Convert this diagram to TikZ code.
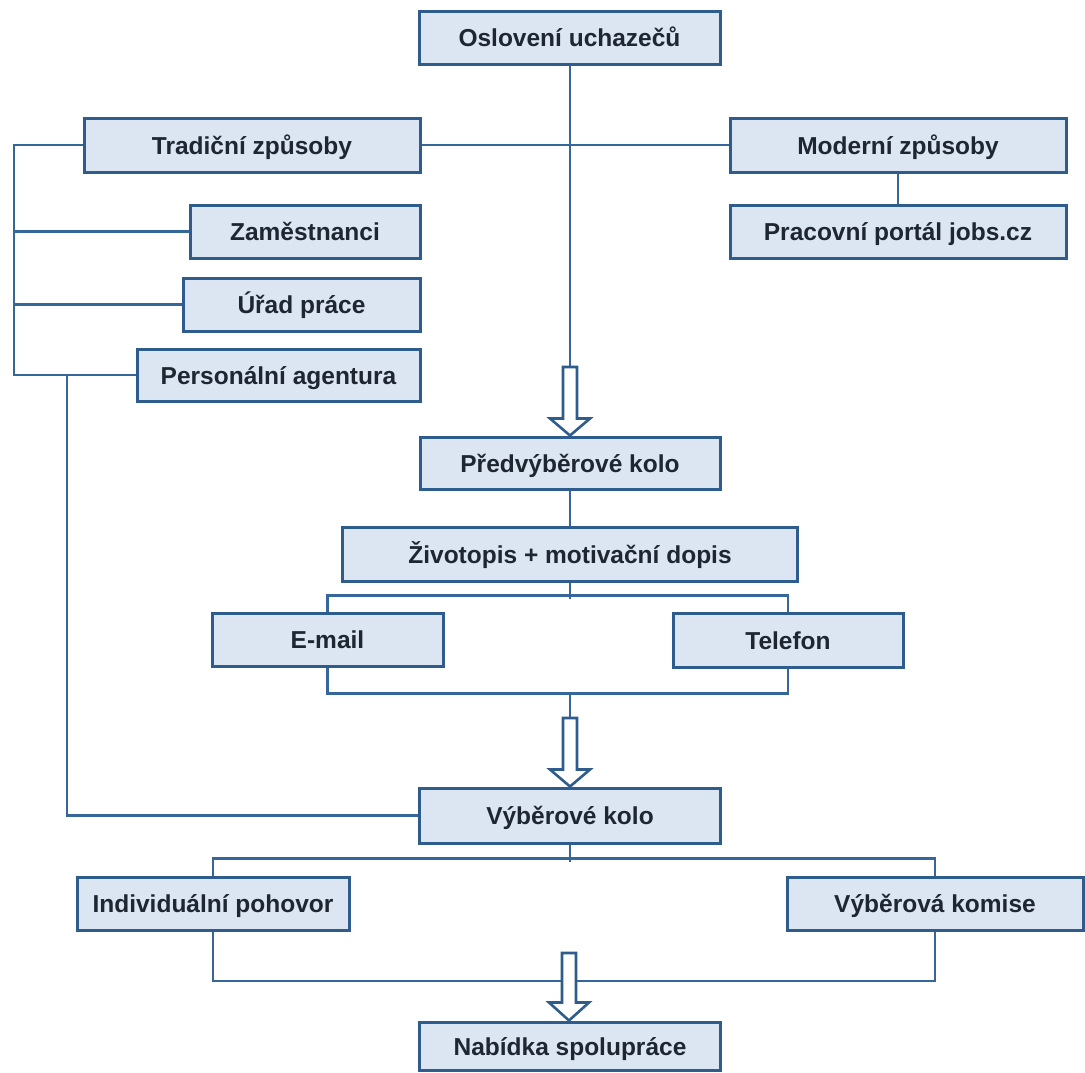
\documentclass[tikz,border=0pt]{standalone}
\usepackage{fontspec}
\setmainfont{Liberation Sans}
\usetikzlibrary{calc}
\definecolor{boxfill}{HTML}{DCE6F2}
\definecolor{boxline}{HTML}{2E5C8C}
\definecolor{wire}{HTML}{36679B}
\definecolor{ink}{HTML}{1E2632}
\begin{document}
\begin{tikzpicture}[x=1pt,y=-1pt,
  box/.style={draw=boxline, line width=3pt, fill=boxfill, inner sep=0pt,
    text=ink, font=\fontsize{24.5}{28}\selectfont\bfseries,
    text height=18pt, text depth=0pt},
  link/.style={draw=wire, line width=2.8pt},
  hollowarr/.style={draw=boxline, line width=2.6pt, fill=white, line join=miter}]
\useasboundingbox (0,0) rectangle (1085,1072);

% boxes
\node[box, minimum width=301, minimum height=53] (osl)  at (569.5,37.5) {Oslovení uchazečů};
\node[box, minimum width=336, minimum height=54] (trad) at (252,145)    {Tradiční způsoby};
\node[box, minimum width=336, minimum height=54] (mod)  at (898,145)    {Moderní způsoby};
\node[box, minimum width=336, minimum height=53] (prac) at (898,231.5)  {Pracovní portál jobs.cz};
\node[box, minimum width=230, minimum height=53] (zam)  at (305,231.5)  {Zaměstnanci};
\node[box, minimum width=237, minimum height=53] (urad) at (301.5,304.5){Úřad práce};
\node[box, minimum width=283, minimum height=52] (pers) at (278.5,375)  {Personální agentura};
\node[box, minimum width=300, minimum height=52] (pred) at (570,463)    {Předvýběrové kolo};
\node[box, minimum width=455, minimum height=54] (ziv)  at (570,554)    {Životopis + motivační dopis};
\node[box, minimum width=231, minimum height=53] (mail) at (327.5,639.5){E-mail};
\node[box, minimum width=230, minimum height=54] (tel)  at (788,640)    {Telefon};
\node[box, minimum width=301, minimum height=55] (vyb)  at (570,815.5)  {Výběrové kolo};
\node[box, minimum width=272, minimum height=53] (ind)  at (213,903.5)  {Individuální pohovor};
\node[box, minimum width=296, minimum height=53] (kom)  at (935,903.5)  {Výběrová komise};
\node[box, minimum width=301, minimum height=48] (nab)  at (570,1046)   {Nabídka spolupráce};

% junction points
\coordinate (a1top) at (570,367);
\coordinate (a2top) at (570,718);
\coordinate (a3top) at (569,953);
\coordinate (lbus) at (14,145);
\coordinate (pbus) at (67,375);

% top level
\draw[link] (osl.south -| a1top) -- (a1top);
\draw[link] (trad.east) -- (mod.west);
\draw[link] (mod.south) -- (prac.north);

% traditional channels
\draw[link] (trad.west) -- (lbus) |- (pers.west);
\draw[link] (lbus |- zam.west) -- (zam.west);
\draw[link] (lbus |- urad.west) -- (urad.west);
\draw[link] (pbus) |- (vyb.west);

% pre-selection round
\draw[link] (pred.south) -- (ziv.north);
\draw[link] (ziv.south) -- ++(0,16);
\draw[link] (mail.north) -- ++(0,-16) -| (tel.north);
\draw[link] (mail.south) -- ++(0,26) -| (tel.south);
\draw[link] (a2top |- 0,692) -- (a2top);

% selection round
\draw[link] (vyb.south) -- ++(0,17);
\draw[link] (ind.north) -- ++(0,-17) -| (kom.north);
\draw[link] (ind.south) -- ++(0,49.5) -| (kom.south);

% hollow block arrows
\draw[hollowarr] (pred.north) -- ++(-20,-17) -- ++(13,0) -- ($(a1top)+(-7,0)$)
  -- ($(a1top)+(7,0)$) -- ($(pred.north)+(7,-17)$) -- ++(13,0) -- cycle;
\draw[hollowarr] (vyb.north) -- ++(-20,-17) -- ++(13,0) -- ($(a2top)+(-7,0)$)
  -- ($(a2top)+(7,0)$) -- ($(vyb.north)+(7,-17)$) -- ++(13,0) -- cycle;
\draw[hollowarr] (nab.north -| a3top) -- ++(-20,-18) -- ++(13,0) -- ($(a3top)+(-7,0)$)
  -- ($(a3top)+(7,0)$) -- ($(nab.north -| a3top)+(7,-18)$) -- ++(13,0) -- cycle;
\end{tikzpicture}
\end{document}
